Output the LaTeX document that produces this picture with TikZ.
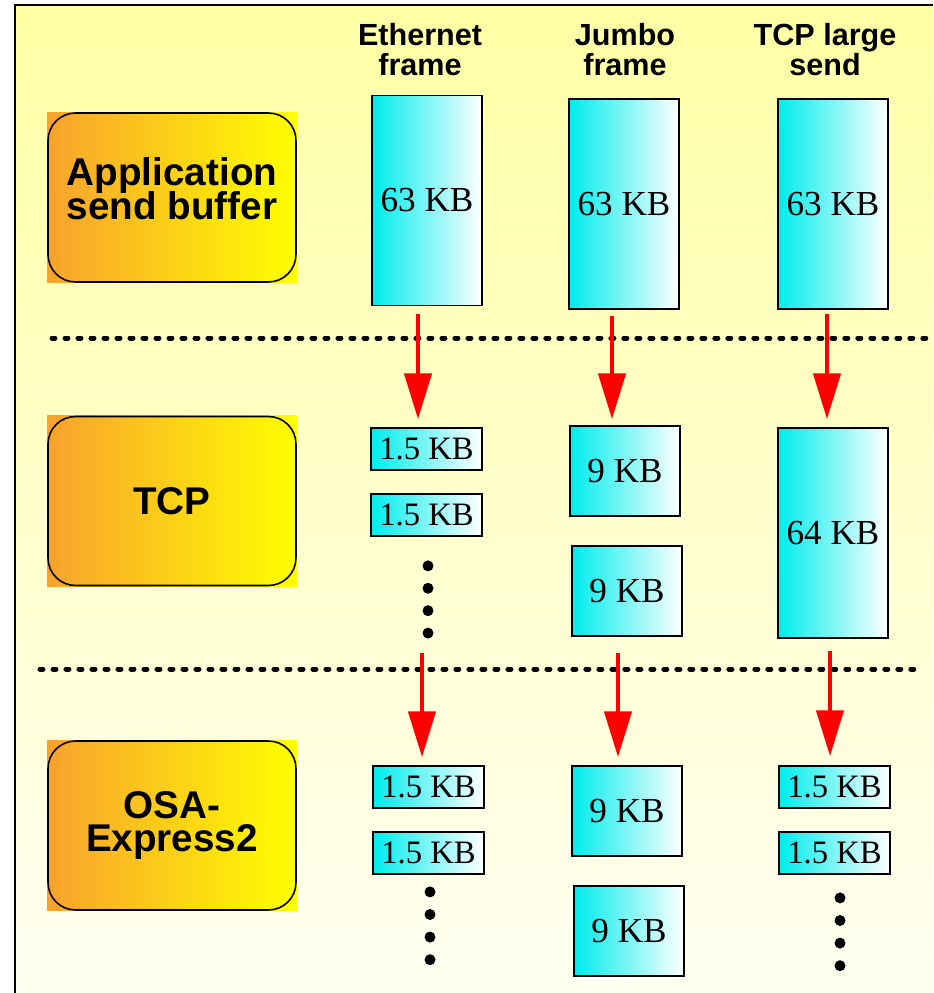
\documentclass[tikz,border=0pt]{standalone}
\usepackage{fontspec}
\setmainfont{Liberation Serif}
\setsansfont{Liberation Sans}
\usepackage{tikz}
\usetikzlibrary{arrows.meta, positioning, calc, backgrounds}
\definecolor{bgtop}{RGB}{255,255,165}
\definecolor{bgbot}{RGB}{255,255,242}
\definecolor{pktcyan}{RGB}{0,236,236}
\definecolor{layorange}{RGB}{248,162,45}
\definecolor{layyellow}{RGB}{255,255,0}
\setlength{\lineskiplimit}{-20pt}

\begin{document}
\begin{tikzpicture}[
    x=0.02cm, y=-0.02cm,
    layer/.style={draw, line width=0.9pt, rounded corners=0.55cm, minimum width=4.96cm,
                  minimum height=3.38cm, align=center,
                  font=\sffamily\bfseries\fontsize{22}{18.8}\selectfont},
    head/.style={align=center, inner sep=0pt,
                 font=\sffamily\bfseries\fontsize{17.4}{17.6}\selectfont},
    pkt/.style={draw, line width=1.1pt, inner sep=0pt, left color=pktcyan, right color=white,
                font=\fontsize{20}{22}\selectfont},
    bigpkt/.style={pkt, minimum width=2.2cm, minimum height=4.2cm},
    midpkt/.style={pkt, minimum width=2.2cm, minimum height=1.8cm},
    smallpkt/.style={pkt, minimum width=2.22cm, minimum height=0.84cm,
                     font=\fontsize{18.6}{20}\selectfont},
    flow/.style={red, line width=2pt, -{Triangle[length=26pt, width=15.5pt]}},
    sep/.style={line width=0.1cm, line cap=round, dash pattern=on 0.06cm off 0.2cm},
    dot/.style={fill=black},
]

\useasboundingbox (0,0) rectangle (933,993);

% headings
\node[head, anchor=base] (heth) at (420,76) {Ethernet\\frame};
\node[head, anchor=base] (hjum) at (625,76) {Jumbo\\frame};
\node[head, anchor=base] (htcp) at (825,76) {TCP large\\send};

% layers
\node[layer, text depth=0.36cm] (app) at (172,197.5) {Application\\send buffer};
\node[layer] (tcp) at (172,501) {TCP};
\node[layer] (osa) at (172,825.5) {OSA-\\Express2};

% application buffers
\node[bigpkt] (e1) at (427,200.5) {63 KB};
\node[bigpkt] (j1) at (624,204) {63 KB};
\node[bigpkt] (t1) at (833,204) {63 KB};

% TCP segments
\node[smallpkt] (e2a) at (426.5,449) {1.5 KB};
\node[smallpkt, below=0.44cm of e2a] (e2b) {1.5 KB};
\node[midpkt] (j2a) at (625,471) {9 KB};
\node[midpkt, below=0.56cm of j2a, xshift=0.04cm] (j2b) {9 KB};
\node[bigpkt] (t2) at (833,533) {64 KB};

% OSA frames
\node[smallpkt] (e3a) at (428.5,787) {1.5 KB};
\node[smallpkt, below=0.44cm of e3a] (e3b) {1.5 KB};
\node[midpkt] (j3a) at (627,811) {9 KB};
\node[midpkt, below=0.56cm of j3a, xshift=0.04cm] (j3b) {9 KB};
\node[smallpkt] (t3a) at (834.5,787) {1.5 KB};
\node[smallpkt, below=0.44cm of t3a] (t3b) {1.5 KB};

% more frames
\foreach \k in {0,...,3} {
  \fill[dot] ($(e2b.south)+(1.5,29+22.4*\k)$) circle[radius=0.11cm];
  \fill[dot] ($(e3b.south)+(1.5,17+22.6*\k)$) circle[radius=0.11cm];
  \fill[dot] ($(t3b.south)+(5.5,23+22.6*\k)$) circle[radius=0.11cm];
}
\coordinate (e2dots) at ($(e2b.south)+(1.5,96)$);

% separators
\draw[sep] (52,338) -- (933,338);
\draw[sep] (40,669) -- (922,669);

% flows
\draw[flow] ($(e1.south)+(-9,8)$) -- ($(e1.south |- e2a.north)+(-9,-8)$);
\draw[flow] ($(j1.south)+(-12,6)$) -- ($(j1.south |- j2a.north)+(-12,-6)$);
\draw[flow] ($(t1.south)+(-6,4)$) -- ($(t1.south |- t2.north)+(-6,-8)$);
\draw[flow] ($(e2dots)+(-6,20)$) -- ($(e2dots |- e3a.north)+(-6,-8)$);
\draw[flow] ($(j2b.south)+(-9,16)$) -- ($(j2b.south |- j3a.north)+(-9,-8)$);
\draw[flow] ($(t2.south)+(-3,12)$) -- ($(t2.south |- t3a.north)+(-3,-9)$);

\begin{scope}[on background layer]
  \fill[white] (0,0) rectangle (933,993);
  \shade[top color=bgtop, bottom color=bgbot] (15,5) rectangle (933,993);
  \draw[line width=0.04cm] (933,5) -- (15,5) -- (15,993);
  \foreach \n in {app,tcp,osa}
    \shade[left color=layorange, right color=layyellow] (\n.south west) rectangle (\n.north east);
\end{scope}

\end{tikzpicture}
\end{document}
